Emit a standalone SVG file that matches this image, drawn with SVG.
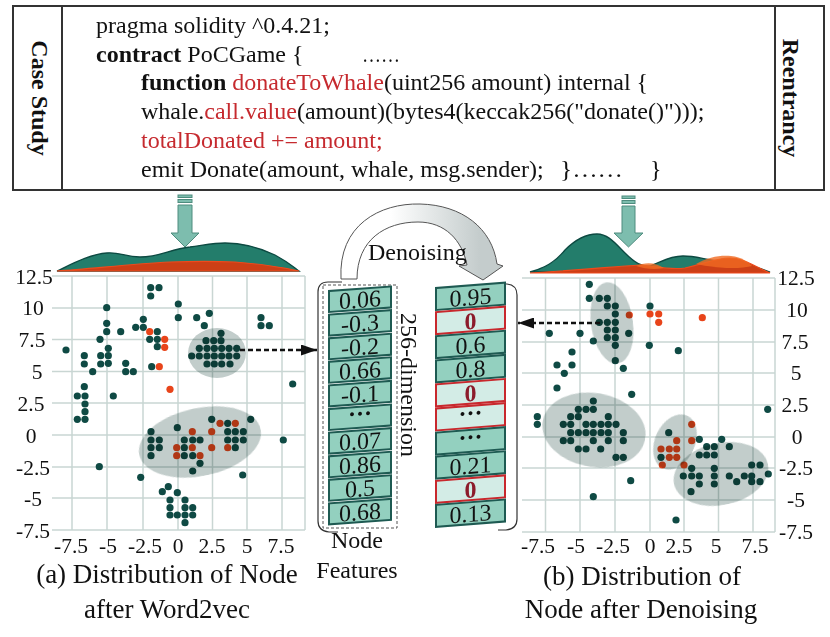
<svg xmlns="http://www.w3.org/2000/svg" width="830" height="637" viewBox="0 0 830 637">
<style>
text{font-family:"Liberation Serif","Times New Roman",serif;fill:#111}
.code{font-size:24px}
.red{fill:#c62a2f}
.b{font-weight:bold}
.tick{font-size:21.5px;text-anchor:middle}
.cap{font-size:27px;text-anchor:middle}
.grid{stroke:#c9d6d3;stroke-width:1.5;fill:none}
.d{fill:#0f4a44}
.r{fill:#e8441a}
.ell{fill:#c2cdcb;mix-blend-mode:multiply}
.cell{fill:#93d0bf;stroke:#1e5a52;stroke-width:2}
.rcell{fill:#d3ece6;stroke:#c8282d;stroke-width:2}
.cv{font-size:24px;text-anchor:middle}
.zero{font-size:24px;text-anchor:middle;font-weight:bold;fill:#8c1b2b}
.darr{fill:#7dbdae;stroke:#4e8c7e;stroke-width:1}
.dash{stroke:#111;stroke-width:2.5;stroke-dasharray:5 3;fill:none}
.gden{fill:#237d6b;stroke:#0d4a42;stroke-width:1.3}
.oden{fill:#cc3f16;stroke:#ee4a1c;stroke-width:1.2}
</style>
<defs>
<marker id="ah" viewBox="0 0 16 11" refX="16" refY="5.5" markerWidth="16" markerHeight="11" markerUnits="userSpaceOnUse" orient="auto">
<path d="M0 0 L16 5.5 L0 11 Z" fill="#111"/>
</marker>
<linearGradient id="dg" x1="390" y1="0" x2="480" y2="0" gradientUnits="userSpaceOnUse">
<stop offset="0" stop-color="#ffffff"/>
<stop offset="1" stop-color="#c4cccc"/>
</linearGradient>
</defs>

<!-- Case study code box -->
<g id="case-study">
<rect x="13" y="6" width="811" height="184" fill="#fff" stroke="#333" stroke-width="2"/>
<line x1="62" y1="6" x2="62" y2="190" stroke="#333" stroke-width="2"/>
<line x1="775" y1="6" x2="775" y2="190" stroke="#333" stroke-width="2"/>
<text class="b" font-size="24" text-anchor="middle" transform="translate(32,98) rotate(90)">Case Study</text>
<text class="b" font-size="24" text-anchor="middle" transform="translate(783,98) rotate(90)">Reentrancy</text>
<text class="code" x="96" y="33">pragma solidity ^0.4.21;</text>
<text class="code" x="96" y="62"><tspan class="b">contract</tspan> PoCGame {</text>
<text class="code" x="362" y="62" textLength="38" lengthAdjust="spacingAndGlyphs">……</text>
<text class="code" x="141" y="90"><tspan class="b">function</tspan> <tspan class="red">donateToWhale</tspan>(uint256 amount) internal {</text>
<text class="code" x="141" y="119">whale.<tspan class="red">call.value</tspan>(amount)(bytes4(keccak256("donate()")));</text>
<text class="code red" x="141" y="148">totalDonated += amount;</text>
<text class="code" x="141" y="177">emit Donate(amount, whale, msg.sender);</text>
<text class="code" x="560" y="177" textLength="63" lengthAdjust="spacingAndGlyphs">}……</text>
<text class="code" x="650" y="177">}</text>
</g>

<!-- down arrows -->
<g id="arrow-left" class="darr">
<rect x="178" y="195" width="14" height="2.5"/>
<rect x="178" y="199.5" width="14" height="3"/>
<path d="M178 205 H192 V233 H199 L185 247 L171 233 H178 Z"/>
</g>
<g id="arrow-right" class="darr">
<rect x="622" y="196" width="13" height="2.5"/>
<rect x="622" y="200.5" width="13" height="3"/>
<path d="M622 206 H635 V233 H643 L628.5 247 L614 233 H622 Z"/>
</g>

<!-- density curves -->
<g id="density-left">
<path class="gden" d="M57,271 C70,265 90,254 107,253 C120,252 125,257 140,257 C160,257 170,249 190,247 C205,245 215,243 225,243 C245,243 260,248 275,255 C288,262 295,268 299,271 Z"/>
<path class="oden" d="M57,271 C90,269 130,264 170,262 C195,261 215,261 235,262 C265,264 285,268 299,271 Z"/>
</g>
<g id="density-right">
<path class="gden" d="M530,272 C545,268 555,262 565,250 C575,240 585,234 597,234 C608,234 615,243 625,253 C635,263 642,267 650,266 C660,263 668,256 683,256 C697,256 705,260 720,261 C740,262 755,266 770,272 Z"/>
<path class="oden" d="M530,273 C580,270 610,267 640,265 C660,267 670,270 685,268 C700,265 715,258 730,258 C742,258 750,264 770,273 Z"/>
<path d="M636,266 C645,262 655,262 664,268 C655,270 645,269 636,266 Z" fill="#f06a22" opacity="0.8"/>
<path d="M696,264 C708,257 720,255 731,256 C742,257 748,262 752,266 C740,269 720,269 696,264 Z" fill="#f06a22" opacity="0.8"/>
</g>

<!-- left plot -->
<g id="plot-left">
<g class="grid">
<path d="M52 276H305M52 308H305M52 339.5H305M52 371.5H305M52 403H305M52 435H305M52 467H305M52 498H305M52 530H305"/>
<path d="M72 276V530M107 276V530M143 276V530M178 276V530M212.5 276V530M247 276V530M282 276V530M305 276V530"/>
</g>
<g class="tick">
<text x="34" y="284">12.5</text><text x="33" y="315">10</text><text x="32" y="347">7.5</text><text x="37" y="379">5</text>
<text x="31" y="411">2.5</text><text x="31" y="443">0</text><text x="33" y="475">-2.5</text><text x="33" y="506">-5</text><text x="33" y="538">-7.5</text>
<text x="71" y="553">-7.5</text><text x="108" y="553">-5</text><text x="145" y="553">-2.5</text><text x="178" y="553">0</text><text x="212" y="553">2.5</text><text x="247" y="553">5</text><text x="281" y="553">7.5</text>
</g>
<g class="d">
<circle cx="66" cy="350" r="3.6"/><circle cx="150.7" cy="287.7" r="3.6"/><circle cx="159" cy="287.7" r="3.6"/><circle cx="150.7" cy="296" r="3.6"/>
<circle cx="106.7" cy="307.7" r="3.6"/><circle cx="178.3" cy="304" r="3.6"/><circle cx="178.3" cy="317.7" r="3.6"/>
<circle cx="196.7" cy="317.7" r="3.6"/><circle cx="209.3" cy="313.3" r="3.6"/><circle cx="204.3" cy="325.7" r="3.6"/>
<circle cx="106.7" cy="323.3" r="3.6"/><circle cx="106.7" cy="331.7" r="3.6"/><circle cx="143.3" cy="319.3" r="3.6"/><circle cx="135.7" cy="327.3" r="3.6"/><circle cx="143.3" cy="327.3" r="3.6"/>
<circle cx="120.7" cy="331.7" r="3.6"/><circle cx="157.3" cy="331.7" r="3.6"/><circle cx="149.7" cy="339.3" r="3.6"/><circle cx="157.3" cy="339.3" r="3.6"/><circle cx="157.3" cy="346.7" r="3.6"/>
<circle cx="100" cy="339.3" r="3.6"/><circle cx="108.3" cy="348.3" r="3.6"/><circle cx="84.3" cy="355.7" r="3.6"/><circle cx="84.3" cy="364" r="3.6"/>
<circle cx="100.7" cy="355.7" r="3.6"/><circle cx="108.3" cy="355.7" r="3.6"/><circle cx="100.7" cy="364" r="3.6"/><circle cx="108.3" cy="363.3" r="3.6"/>
<circle cx="92.7" cy="371.7" r="3.6"/><circle cx="125.7" cy="363.3" r="3.6"/><circle cx="125.7" cy="371.7" r="3.6"/><circle cx="133.3" cy="371.7" r="3.6"/>
<circle cx="151.7" cy="366.7" r="3.6"/><circle cx="84.3" cy="386.7" r="3.6"/><circle cx="261" cy="317.7" r="3.6"/><circle cx="261" cy="325.7" r="3.6"/><circle cx="269.3" cy="325.7" r="3.6"/>
<circle cx="292.7" cy="384" r="3.6"/>
<circle cx="221" cy="333.3" r="3.6"/><circle cx="206" cy="340.7" r="3.6"/><circle cx="213.7" cy="340.7" r="3.6"/><circle cx="221" cy="340.7" r="3.6"/>
<circle cx="199.3" cy="348.3" r="3.6"/><circle cx="207" cy="348.3" r="3.6"/><circle cx="214.3" cy="348.3" r="3.6"/><circle cx="221.7" cy="348.3" r="3.6"/><circle cx="229" cy="348.3" r="3.6"/><circle cx="236.7" cy="348.3" r="3.6"/>
<circle cx="191.7" cy="356" r="3.6"/><circle cx="199.3" cy="356" r="3.6"/><circle cx="207" cy="356" r="3.6"/><circle cx="214.3" cy="356" r="3.6"/><circle cx="221.7" cy="356" r="3.6"/><circle cx="229" cy="356" r="3.6"/><circle cx="236.7" cy="356" r="3.6"/>
<circle cx="207" cy="364" r="3.6"/><circle cx="214.3" cy="364" r="3.6"/><circle cx="221.7" cy="364" r="3.6"/><circle cx="230" cy="364" r="3.6"/>
<circle cx="77.3" cy="396" r="3.6"/><circle cx="85" cy="396" r="3.6"/><circle cx="85" cy="404" r="3.6"/><circle cx="85" cy="411.7" r="3.6"/><circle cx="77.3" cy="419.3" r="3.6"/><circle cx="85" cy="419.3" r="3.6"/>
<circle cx="113.3" cy="396" r="3.6"/><circle cx="99.3" cy="466.7" r="3.6"/><circle cx="140.7" cy="477.3" r="3.6"/><circle cx="283.3" cy="440" r="3.6"/><circle cx="242.7" cy="475" r="3.6"/><circle cx="250.7" cy="419.3" r="3.6"/>
<circle cx="151" cy="431.7" r="3.6"/><circle cx="151" cy="440" r="3.6"/><circle cx="159.3" cy="440" r="3.6"/><circle cx="151" cy="447.7" r="3.6"/><circle cx="159.3" cy="447.7" r="3.6"/><circle cx="151" cy="455.7" r="3.6"/>
<circle cx="177.3" cy="427.7" r="3.6"/><circle cx="184.3" cy="440" r="3.6"/><circle cx="192.7" cy="440" r="3.6"/><circle cx="200" cy="440" r="3.6"/><circle cx="184.3" cy="447.7" r="3.6"/><circle cx="184.3" cy="455.7" r="3.6"/><circle cx="192.7" cy="455.7" r="3.6"/>
<circle cx="200" cy="463.3" r="3.6"/><circle cx="192.7" cy="471" r="3.6"/><circle cx="211.7" cy="419.3" r="3.6"/><circle cx="227.7" cy="423.3" r="3.6"/>
<circle cx="227.7" cy="431.7" r="3.6"/><circle cx="235.3" cy="431.7" r="3.6"/><circle cx="243.3" cy="431.7" r="3.6"/><circle cx="227.7" cy="440" r="3.6"/><circle cx="235.3" cy="440" r="3.6"/><circle cx="243.3" cy="440" r="3.6"/><circle cx="235.3" cy="447.7" r="3.6"/>
<circle cx="168.3" cy="486.7" r="3.6"/><circle cx="162.3" cy="491.7" r="3.6"/><circle cx="177.3" cy="492.7" r="3.6"/><circle cx="170" cy="500" r="3.6"/><circle cx="185" cy="500" r="3.6"/>
<circle cx="170" cy="507.7" r="3.6"/><circle cx="185" cy="507.7" r="3.6"/><circle cx="192.7" cy="507.7" r="3.6"/><circle cx="170" cy="515" r="3.6"/><circle cx="177.3" cy="515" r="3.6"/><circle cx="185" cy="515" r="3.6"/><circle cx="192.7" cy="515" r="3.6"/><circle cx="185" cy="522.7" r="3.6"/>
</g>
<g class="r">
<circle cx="192.3" cy="431.7" r="3.6"/><circle cx="176.7" cy="447.7" r="3.6"/><circle cx="192.3" cy="447.7" r="3.6"/><circle cx="176.7" cy="455.7" r="3.6"/><circle cx="200" cy="455.7" r="3.6"/>
<circle cx="220" cy="423.3" r="3.6"/><circle cx="235.3" cy="423.3" r="3.6"/><circle cx="211.7" cy="431.7" r="3.6"/><circle cx="211.7" cy="447.7" r="3.6"/><circle cx="227.7" cy="447.7" r="3.6"/>
<circle cx="149.7" cy="331.7" r="3.6"/><circle cx="164.7" cy="339.3" r="3.6"/><circle cx="164.7" cy="347.3" r="3.6"/><circle cx="159.3" cy="366.7" r="3.6"/><circle cx="170" cy="389.3" r="3.6"/>
</g>
<ellipse class="ell" cx="217" cy="353" rx="29" ry="25"/>
<ellipse class="ell" cx="200" cy="442" rx="62" ry="34" transform="rotate(-12 200 442)"/>
<text class="cap" x="167" y="583">(a) Distribution of Node</text>
<text class="cap" x="167" y="618">after Word2vec</text>
</g>

<!-- right plot -->
<g id="plot-right">
<g class="grid">
<path d="M522 278H775M522 310H775M522 342H775M522 373H775M522 405H775M522 437H775M522 468H775M522 500H775M522 532H775"/>
<path d="M545.5 278V532M580 278V532M615 278V532M650 278V532M684 278V532M718.5 278V532M753 278V532M775 278V532"/>
</g>
<g class="tick">
<text x="796" y="285">12.5</text><text x="797" y="317">10</text><text x="795" y="349">7.5</text><text x="796" y="380">5</text>
<text x="795" y="412">2.5</text><text x="797" y="444">0</text><text x="796" y="475">-2.5</text><text x="796" y="507">-5</text><text x="796" y="539">-7.5</text>
<text x="538" y="553">-7.5</text><text x="576" y="553">-5</text><text x="613" y="553">-2.5</text><text x="650" y="553">0</text><text x="679" y="553">2.5</text><text x="716" y="553">5</text><text x="755" y="553">7.5</text>
</g>
<g class="d">
<circle cx="589.3" cy="284.3" r="3.6"/><circle cx="589.3" cy="298.3" r="3.6"/><circle cx="599.3" cy="298.3" r="3.6"/><circle cx="607.3" cy="298.3" r="3.6"/><circle cx="607.3" cy="306" r="3.6"/><circle cx="615.3" cy="306" r="3.6"/>
<circle cx="650" cy="306" r="3.6"/><circle cx="615.3" cy="314" r="3.6"/><circle cx="599.3" cy="322.3" r="3.6"/><circle cx="607.3" cy="322.3" r="3.6"/><circle cx="615.3" cy="322.3" r="3.6"/>
<circle cx="607.3" cy="330" r="3.6"/><circle cx="615.3" cy="330" r="3.6"/><circle cx="549.3" cy="333.3" r="3.6"/><circle cx="580" cy="333.3" r="3.6"/><circle cx="628.7" cy="333.3" r="3.6"/>
<circle cx="607.3" cy="337.7" r="3.6"/><circle cx="615.3" cy="337.7" r="3.6"/><circle cx="593.3" cy="341" r="3.6"/><circle cx="615.3" cy="345.3" r="3.6"/><circle cx="649.3" cy="345.3" r="3.6"/>
<circle cx="678.3" cy="350.7" r="3.6"/><circle cx="572" cy="352" r="3.6"/><circle cx="615.3" cy="360.7" r="3.6"/><circle cx="623.3" cy="368.3" r="3.6"/><circle cx="557" cy="365" r="3.6"/><circle cx="572" cy="365" r="3.6"/>
<circle cx="564.3" cy="373.3" r="3.6"/><circle cx="557" cy="388" r="3.6"/><circle cx="631.7" cy="394.3" r="3.6"/><circle cx="767.7" cy="409.3" r="3.6"/><circle cx="537.3" cy="416.7" r="3.6"/><circle cx="537.3" cy="424.3" r="3.6"/>
<circle cx="593.3" cy="401" r="3.6"/><circle cx="578.3" cy="409.3" r="3.6"/><circle cx="586" cy="409.3" r="3.6"/><circle cx="593.3" cy="409.3" r="3.6"/><circle cx="570.7" cy="416.7" r="3.6"/><circle cx="578.3" cy="416.7" r="3.6"/><circle cx="608.3" cy="416.7" r="3.6"/>
<circle cx="563.3" cy="424.3" r="3.6"/><circle cx="570.7" cy="424.3" r="3.6"/><circle cx="586" cy="424.3" r="3.6"/><circle cx="593.3" cy="424.3" r="3.6"/><circle cx="601" cy="424.3" r="3.6"/><circle cx="608.3" cy="424.3" r="3.6"/><circle cx="616" cy="424.3" r="3.6"/>
<circle cx="570.7" cy="432.7" r="3.6"/><circle cx="578.3" cy="432.7" r="3.6"/><circle cx="586" cy="432.7" r="3.6"/><circle cx="593.3" cy="432.7" r="3.6"/><circle cx="601" cy="432.7" r="3.6"/><circle cx="608.3" cy="432.7" r="3.6"/><circle cx="623.3" cy="432.7" r="3.6"/>
<circle cx="563.3" cy="440.7" r="3.6"/><circle cx="570.7" cy="440.7" r="3.6"/><circle cx="593.3" cy="440.7" r="3.6"/><circle cx="608.3" cy="440.7" r="3.6"/><circle cx="623.3" cy="440.7" r="3.6"/>
<circle cx="578.3" cy="449" r="3.6"/><circle cx="586" cy="449" r="3.6"/><circle cx="600.7" cy="449" r="3.6"/><circle cx="616" cy="457.3" r="3.6"/><circle cx="623.3" cy="457.3" r="3.6"/>
<circle cx="630.7" cy="480.7" r="3.6"/><circle cx="593.3" cy="496.7" r="3.6"/><circle cx="676" cy="520" r="3.6"/>
<circle cx="668.7" cy="432.7" r="3.6"/><circle cx="699.3" cy="439.3" r="3.6"/><circle cx="661" cy="457.3" r="3.6"/>
<circle cx="721.7" cy="439.3" r="3.6"/><circle cx="706.7" cy="446.7" r="3.6"/><circle cx="714.3" cy="446.7" r="3.6"/><circle cx="729.3" cy="446.7" r="3.6"/>
<circle cx="699.3" cy="455" r="3.6"/><circle cx="706.7" cy="455" r="3.6"/><circle cx="714.3" cy="455" r="3.6"/><circle cx="691.7" cy="468.3" r="3.6"/><circle cx="714.3" cy="468.3" r="3.6"/><circle cx="751.7" cy="465" r="3.6"/><circle cx="760" cy="465" r="3.6"/>
<circle cx="683.3" cy="476" r="3.6"/><circle cx="691.7" cy="476" r="3.6"/><circle cx="699.3" cy="476" r="3.6"/><circle cx="714.3" cy="476" r="3.6"/><circle cx="729.3" cy="476" r="3.6"/><circle cx="744.3" cy="476" r="3.6"/><circle cx="751.7" cy="476" r="3.6"/><circle cx="768.3" cy="474" r="3.6"/>
<circle cx="699.3" cy="484" r="3.6"/><circle cx="714.3" cy="484" r="3.6"/><circle cx="736.7" cy="481.7" r="3.6"/><circle cx="751.7" cy="481.7" r="3.6"/><circle cx="760" cy="481.7" r="3.6"/><circle cx="691" cy="491.7" r="3.6"/>
</g>
<g class="r">
<circle cx="629.3" cy="315" r="3.6"/><circle cx="650" cy="314" r="3.6"/><circle cx="658.7" cy="314" r="3.6"/><circle cx="658.7" cy="322.3" r="3.6"/><circle cx="702.3" cy="317.7" r="3.6"/>
<circle cx="691.7" cy="424.3" r="3.6"/><circle cx="691.7" cy="440.7" r="3.6"/><circle cx="676.7" cy="440.7" r="3.6"/><circle cx="661" cy="449" r="3.6"/><circle cx="669.3" cy="449" r="3.6"/><circle cx="676.7" cy="449" r="3.6"/>
<circle cx="669.3" cy="457.3" r="3.6"/><circle cx="676.7" cy="457.3" r="3.6"/><circle cx="662.3" cy="465" r="3.6"/><circle cx="684" cy="465" r="3.6"/>
</g>
<ellipse class="ell" cx="612" cy="323" rx="21" ry="41" transform="rotate(-8 612 323)"/>
<ellipse class="ell" cx="594" cy="430" rx="52" ry="37" transform="rotate(10 594 430)"/>
<ellipse class="ell" cx="675" cy="442" rx="20" ry="29" transform="rotate(25 675 442)"/>
<ellipse class="ell" cx="721" cy="474" rx="48" ry="31" transform="rotate(-12 721 474)"/>
<text class="cap" x="642" y="585">(b) Distribution of</text>
<text class="cap" x="641" y="618">Node after Denoising</text>
</g>

<!-- middle: node features -->
<g id="node-features">
<path d="M342 282 H328 Q318 282 318 292 V521 Q318 531 329 532 H338" fill="none" stroke="#333" stroke-width="1.2"/>
<path d="M500 284 H507 Q517 285 517 295 V519 Q517 529 506 530 H498" fill="none" stroke="#333" stroke-width="1.2"/>
<rect x="323" y="285" width="74" height="243" fill="none" stroke="#555" stroke-width="1" stroke-dasharray="3 2"/>
<g transform="translate(329,0) skewY(-4.15)">
<rect class="cell" x="0" y="291" width="62" height="21"/><text class="cv" x="31" y="310">0.06</text>
<rect class="cell" x="0" y="314.6" width="62" height="21"/><text class="cv" x="31" y="333.6">-0.3</text>
<rect class="cell" x="0" y="338.2" width="62" height="21"/><text class="cv" x="31" y="357.2">-0.2</text>
<rect class="cell" x="0" y="361.8" width="62" height="21"/><text class="cv" x="31" y="380.8">0.66</text>
<rect class="cell" x="0" y="385.4" width="62" height="21"/><text class="cv" x="31" y="404.4">-0.1</text>
<rect class="cell" x="0" y="409" width="62" height="21"/><text class="cv b" x="31" y="424">···</text>
<rect class="cell" x="0" y="432.6" width="62" height="21"/><text class="cv" x="31" y="451.6">0.07</text>
<rect class="cell" x="0" y="456.2" width="62" height="21"/><text class="cv" x="31" y="475.2">0.86</text>
<rect class="cell" x="0" y="479.8" width="62" height="21"/><text class="cv" x="31" y="498.8">0.5</text>
<rect class="cell" x="0" y="503.4" width="62" height="21"/><text class="cv" x="31" y="522.4">0.68</text>
</g>
<text font-size="24" text-anchor="middle" transform="translate(401,385) rotate(90)">256-dimension</text>
<text font-size="24" text-anchor="middle" x="357" y="548">Node</text>
<text font-size="24" text-anchor="middle" x="357" y="578">Features</text>
</g>

<g id="denoised-features">
<g transform="translate(436,0) skewY(-4.5)">
<rect class="cell" x="0" y="288" width="69" height="22"/><text class="cv" x="34.5" y="308">0.95</text>
<rect class="rcell" x="0" y="312.1" width="69" height="22"/><text class="zero" x="34.5" y="332">0</text>
<rect class="cell" x="0" y="336.2" width="69" height="22"/><text class="cv" x="34.5" y="356">0.6</text>
<rect class="cell" x="0" y="360.3" width="69" height="22"/><text class="cv" x="34.5" y="380">0.8</text>
<rect class="rcell" x="0" y="384.4" width="69" height="22"/><text class="zero" x="34.5" y="404">0</text>
<rect class="rcell" x="0" y="408.5" width="69" height="22"/><text class="cv b" x="34.5" y="424">···</text>
<rect class="cell" x="0" y="432.6" width="69" height="22"/><text class="cv b" x="34.5" y="448">···</text>
<rect class="cell" x="0" y="456.7" width="69" height="22"/><text class="cv" x="34.5" y="476.5">0.21</text>
<rect class="rcell" x="0" y="480.8" width="69" height="22"/><text class="zero" x="34.5" y="500.5">0</text>
<rect class="cell" x="0" y="504.9" width="69" height="22"/><text class="cv" x="34.5" y="524.5">0.13</text>
</g>
</g>

<!-- connectors -->
<g id="connectors">
<path id="denoising-arrow" d="M341 279 C338 225 380 203 420 204 C462 205 492 228 497 264 L503 266 L483 280 L459 266 L467 265 C462 240 445 222 418 222 C385 222 357 240 357 279 Z" fill="url(#dg)" stroke="#555" stroke-width="1"/>
<text font-size="24" x="368" y="260">Denoising</text>
<line class="dash" x1="240" y1="350" x2="317" y2="350" marker-end="url(#ah)"/>
<line class="dash" x1="600" y1="323" x2="518" y2="323" marker-end="url(#ah)"/>
</g>
</svg>
